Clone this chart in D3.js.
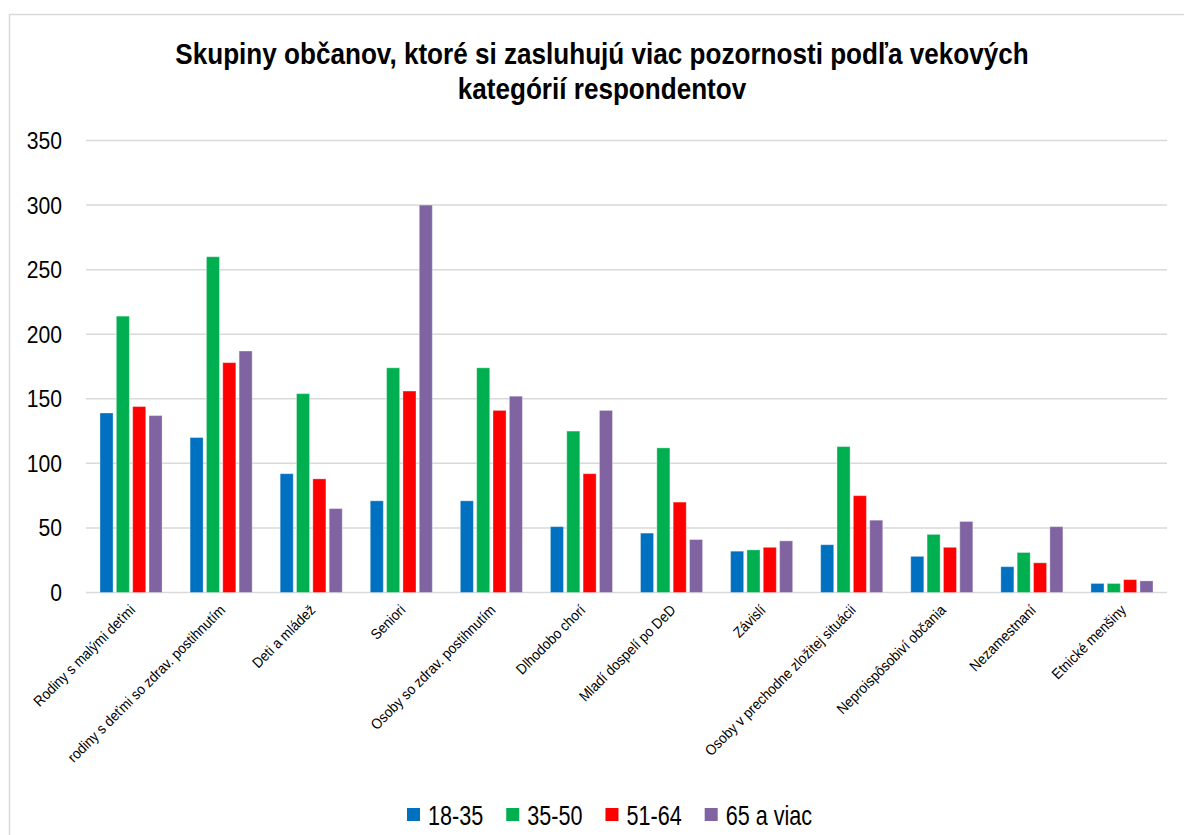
<!DOCTYPE html>
<html>
<head>
<meta charset="utf-8">
<script src="https://cdn.jsdelivr.net/npm/d3@7"></script>
<style>
  body { margin: 0; background: #fff; }
  svg text { font-family: "Liberation Sans", Arial, sans-serif; fill: #000; }
</style>
</head>
<body>
<div id="chart"></div>
<script>
// categories and values
const categories = [
  "Rodiny s malými deťmi",
  "rodiny s deťmi so zdrav. postihnutím",
  "Deti a mládež",
  "Seniori",
  "Osoby so zdrav. postihnutím",
  "Dlhodobo chorí",
  "Mladí dospelí po DeD",
  "Závislí",
  "Osoby v prechodne zložitej situácii",
  "Neproispôsobiví občania",
  "Nezamestnaní",
  "Etnické menšiny"
];
const seriesNames = ["18-35", "35-50", "51-64", "65 a viac"];
const s18_35  = [139, 120, 92, 71, 71, 51, 46, 32, 37, 28, 20, 7];
const s35_50  = [214, 260, 154, 174, 174, 125, 112, 33, 113, 45, 31, 7];
const s51_64  = [144, 178, 88, 156, 141, 92, 70, 35, 75, 35, 23, 10];
const s65plus = [137, 187, 65, 300, 152, 141, 41, 40, 56, 55, 51, 9];
const yTicks = [0, 50, 100, 150, 200, 250, 300, 350];
const colors = ["#0070C0", "#00B050", "#FF0000", "#8064A2"];

const seriesValues = [s18_35, s35_50, s51_64, s65plus];

const W = 1184, H = 835;
const svg = d3.select("#chart").append("svg")
  .attr("width", W).attr("height", H);

// outer chart frame
svg.append("rect")
  .attr("x", 9.5).attr("y", 14.5)
  .attr("width", W + 20).attr("height", H + 20)
  .attr("fill", "none").attr("stroke", "#d9d9d9").attr("stroke-width", 1.5);

// title (narrow look: squeeze horizontally)
const titleLines = ["Skupiny občanov, ktoré si zasluhujú viac pozornosti podľa vekových",
                    "kategórií respondentov"];
titleLines.forEach((line, i) => {
  svg.append("text")
    .attr("text-anchor", "middle")
    .attr("transform", "translate(602," + (64 + i * 35) + ") scale(0.9,1)")
    .style("font-size", "29px").style("font-weight", "bold")
    .text(line);
});

const left = 86, right = 1167;
const x0 = d3.scaleBand().domain(categories).range([left, right]).padding(0);
const x1 = d3.scaleBand().domain(seriesNames)
  .range([14, x0.bandwidth() - 14]).paddingInner(0.2);
const y = d3.scaleLinear().domain([0, 350]).range([592.5, 140.5]);

// gridlines
svg.append("g")
  .selectAll("line")
  .data(yTicks)
  .enter().append("line")
    .attr("x1", left).attr("x2", right)
    .attr("y1", d => y(d)).attr("y2", d => y(d))
    .attr("stroke", "#d9d9d9").attr("stroke-width", 1.5);

// y axis labels
svg.append("g")
  .attr("transform", "translate(62,0)")
  .call(d3.axisLeft(y).tickValues(yTicks).tickSize(0).tickPadding(0))
  .call(g => g.select(".domain").remove())
  .call(g => g.selectAll(".tick text")
    .attr("x", null).attr("dy", null)
    .attr("transform", "translate(0,8) scale(0.88,1)")
    .style("font-size", "24px")
    .style("font-family", null));

// bars
const groups = svg.append("g")
  .selectAll("g")
  .data(categories)
  .enter().append("g")
    .attr("transform", d => "translate(" + x0(d) + ",0)");

groups.selectAll("rect")
  .data((d, i) => seriesNames.map((s, j) => ({ s: s, v: seriesValues[j][i], j: j })))
  .enter().append("rect")
    .attr("x", d => x1(d.s))
    .attr("y", d => y(d.v))
    .attr("width", x1.bandwidth())
    .attr("height", d => y(0) - y(d.v))
    .attr("fill", d => colors[d.j])
    .attr("stroke", "#ffffff").attr("stroke-opacity", 0.35).attr("stroke-width", 1);

// category labels (rotated)
svg.append("g")
  .selectAll("text")
  .data(categories)
  .enter().append("text")
    .attr("text-anchor", "end")
    .attr("transform", d => "translate(" + (x0(d) + x0.bandwidth() / 2 + 5) + ",611) rotate(-45) scale(0.96,1.05)")
    .style("font-size", "14px")
    .text(d => d);

// legend
const legend = svg.append("g").attr("transform", "translate(0,815)");
const lk = 0.8;
let lx = 407;
seriesNames.forEach((name, i) => {
  legend.append("rect")
    .attr("x", lx).attr("y", -7)
    .attr("width", 13).attr("height", 13)
    .attr("fill", colors[i]);
  const t = legend.append("text")
    .attr("transform", "translate(" + (lx + 21) + ",10) scale(" + lk + ",1)")
    .style("font-size", "27px")
    .text(name);
  lx += 21 + t.node().getComputedTextLength() * lk + 23;
});
</script>
</body>
</html>
